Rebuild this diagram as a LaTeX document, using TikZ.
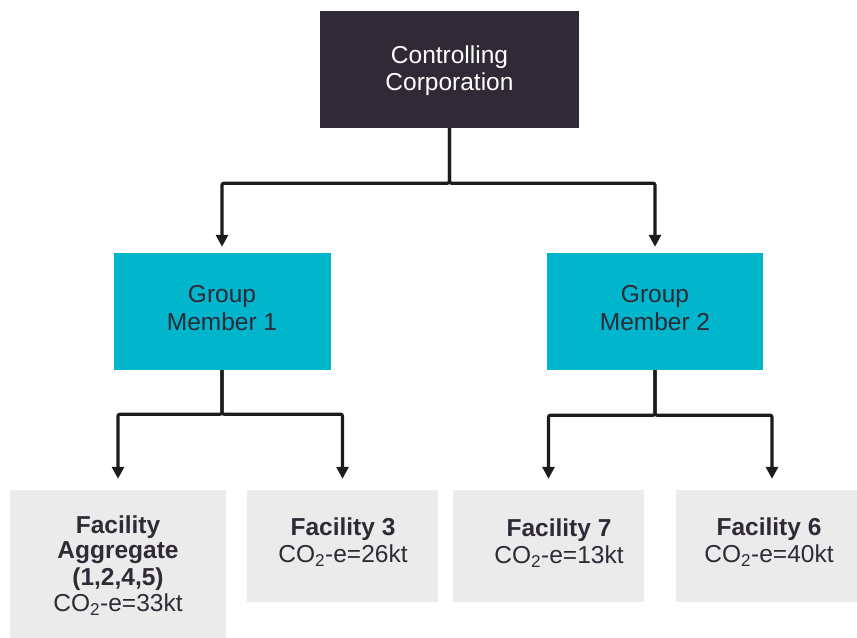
\documentclass[tikz,border=0pt]{standalone}
\usepackage{fontspec}
\setmainfont{Liberation Sans}
\usetikzlibrary{arrows.meta}

\definecolor{corpfill}{HTML}{2F2A35}
\definecolor{memberfill}{HTML}{00B5CC}
\definecolor{facilityfill}{HTML}{EBEBEB}
\definecolor{inkdark}{HTML}{2F2A35}
\definecolor{linkcol}{HTML}{1C1C1C}

\begin{document}
\begin{tikzpicture}[x=1bp,y=-1bp,
  basebox/.style={rectangle, draw=none, inner sep=0pt, align=center,
    font=\fontsize{24.5bp}{26.5bp}\selectfont},
  corp/.style={basebox, fill=corpfill, text=white,
    minimum width=259bp, minimum height=117bp},
  member/.style={basebox, fill=memberfill, text=inkdark,
    font=\fontsize{24.5bp}{28bp}\selectfont,
    minimum width=217bp, minimum height=117bp},
  facility/.style={basebox, fill=facilityfill},
  factext/.style={inner sep=0pt, align=center, text=inkdark,
    font=\fontsize{24.5bp}{27bp}\selectfont},
  conn/.style={draw=linkcol, line width=3.2bp, rounded corners=2bp,
    -{Triangle[width=12bp,length=12bp]}}
]
\useasboundingbox (0,0) rectangle (857,638);
\fill[white] (0,0) rectangle (857,638);
\clip (0,0) rectangle (857,638);

% top level
\node[corp] (top) at (449.5,69.5)
  {\rule{0pt}{21bp}Controlling\\Corporation\rule[-5.5bp]{0pt}{0pt}};

% group members
\node[member] (gm1) at (222,311.5) {Group\\Member 1\rule[-8bp]{0pt}{0pt}};
\node[member, minimum width=216bp] (gm2) at (655,311.5) {Group\\Member 2\rule[-8bp]{0pt}{0pt}};

% facility boxes
\node[facility, minimum width=216bp, minimum height=160bp] (f1) at (118,570) {};
\node[facility, minimum width=191bp, minimum height=112bp] (f2) at (342.5,546) {};
\node[facility, minimum width=191bp, minimum height=112bp] (f3) at (548.5,546) {};
\node[facility, minimum width=192bp, minimum height=112bp] (f4) at (772,546) {};

% facility texts
\node[factext, font=\fontsize{24.5bp}{25bp}\selectfont] (f1txt) at (118,567.5)
  {\strut\textbf{Facility}\\\strut\textbf{Aggregate}\\\strut\textbf{(1,2,4,5)}\\\strut CO\textsubscript{2}-e=33kt};
\node[factext] (f2txt) at (343,544) {\strut\textbf{Facility 3}\\\strut CO\textsubscript{2}-e=26kt};
\node[factext] (f3txt) at (559,544.5) {\strut\textbf{Facility 7}\\\strut CO\textsubscript{2}-e=13kt};
\node[factext] (f4txt) at (769,544) {\strut\textbf{Facility 6}\\\strut CO\textsubscript{2}-e=40kt};

% connectors
\draw[conn, shorten >=6bp] (top.south) -- ++(0,55) -| (gm1.north);
\draw[conn, shorten >=6bp] (top.south) -- ++(0,55) -| (gm2.north);
\draw[conn, shorten >=11bp] (gm1.south) -- ++(0,44) -| (f1.north);
\draw[conn, shorten >=11bp] (gm1.south) -- ++(0,44) -| (f2.north);
\draw[conn, shorten >=11bp] (gm2.south) -- ++(0,45) -| (f3.north);
\draw[conn, shorten >=11bp] (gm2.south) -- ++(0,45) -| (f4.north);
\end{tikzpicture}
\end{document}
